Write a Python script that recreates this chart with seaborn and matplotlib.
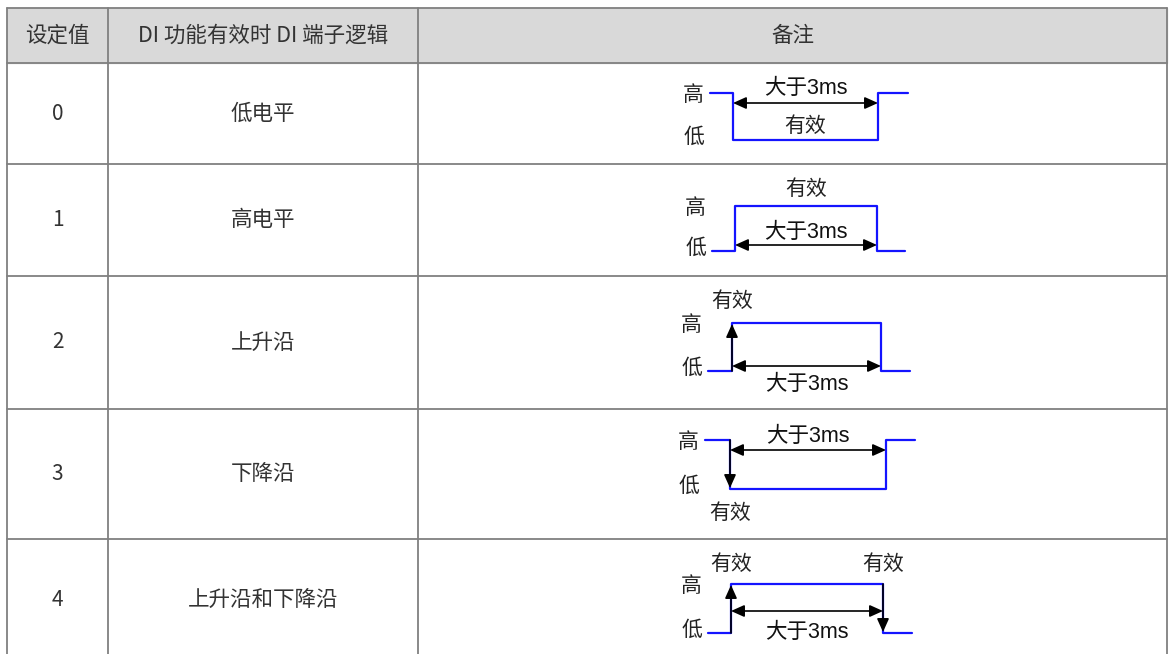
import matplotlib
matplotlib.use("Agg")
import matplotlib.pyplot as plt
import numpy as np
import pandas as pd
import seaborn as sns
from matplotlib.patches import Rectangle

# ── Table content ─────────────────────────────────────────────────────────────
headers = ["设定值", "DI 功能有效时 DI 端子逻辑", "备注"]
set_values = ["0", "1", "2", "3", "4"]
logic_names = ["低电平", "高电平", "上升沿", "下降沿", "上升沿和下降沿"]

# waveform levels at [start, edge1, edge1, edge2, edge2, end]  (1 = 高, 0 = 低)
wave_levels = [
    [1, 1, 0, 0, 1, 1],
    [0, 0, 1, 1, 0, 0],
    [0, 0, 1, 1, 0, 0],
    [1, 1, 0, 0, 1, 1],
    [0, 0, 1, 1, 0, 0],
]
# which edges carry a "valid" arrow: (edge index, direction)
edge_arrows = [[], [], [(1, "up")], [(1, "down")], [(1, "up"), (2, "down")]]
pulse_text = "大于3ms"
valid_text = "有效"
high_text, low_text = "高", "低"

# ── Layout (pixels) ───────────────────────────────────────────────────────────
W, H = 1171, 654
col_edges = [7, 108, 418, 1167]
row_edges = [8, 63, 164, 276, 409, 539, 661]
# per row: x start, edge1, edge2, end, y high, y low
wave_geom = [
    (710, 733, 878, 908, 93, 140),
    (712, 735, 877, 905, 206, 251),
    (708, 732, 881, 910, 323, 371),
    (705, 730, 886, 915, 440, 489),
    (708, 731, 883, 912, 584, 633),
]
arrow_y = [103, 245, 366, 450, 611]
pulse_dy = [-14, -13, 19, -14, 21]      # text offset from double arrow
valid_pos = [  # (anchor, y)
    [("mid", 126)], [("mid", 189)], [("e1", 301)], [("e1", 513)],
    [("e1", 564), ("e2", 564)],
]

sns.set_theme(style="white")
plt.rcParams["font.family"] = ["Noto Sans CJK SC", "DejaVu Sans"]
MIX = ["Liberation Sans", "Noto Sans CJK SC"]

fig = plt.figure(figsize=(W / 100, H / 100), dpi=100)
ax = fig.add_axes([0, 0, 1, 1])

# ── Waveforms ─────────────────────────────────────────────────────────────────
rows = []
for r, (lv, g) in enumerate(zip(wave_levels, wave_geom)):
    x0, x1, x2, x3, yh, yl = g
    xs = [x0, x1, x1, x2, x2, x3]
    for i, (x, l) in enumerate(zip(xs, lv)):
        rows.append({"row": r, "order": i, "x": x, "y": yh if l else yl})
wave_df = pd.DataFrame(rows)
sns.lineplot(data=wave_df, x="x", y="y", units="row", estimator=None, sort=False,
             color="#1414ff", lw=1.6, ax=ax, legend=False)

# ── Table ─────────────────────────────────────────────────────────────────────
ax.add_patch(Rectangle((col_edges[0], row_edges[0]), col_edges[-1] - col_edges[0],
                       row_edges[1] - row_edges[0], color="#d9d9d9", zorder=0))
grid_c = "#808080"
for y in row_edges[:-1]:
    ax.plot([col_edges[0], col_edges[-1]], [y, y], color=grid_c, lw=1.3)
for x in col_edges:
    ax.plot([x, x], [row_edges[0], row_edges[-1]], color=grid_c, lw=1.3)

txt_c = "#333333"
for c, h in enumerate(headers):
    ax.text((col_edges[c] + col_edges[c + 1]) / 2, (row_edges[0] + row_edges[1]) / 2,
            h, ha="center", va="center", fontsize=15.5, color=txt_c)
for r in range(len(set_values)):
    yc = (row_edges[r + 1] + row_edges[r + 2]) / 2
    ax.text((col_edges[0] + col_edges[1]) / 2, yc, set_values[r],
            ha="center", va="center", fontsize=15, color=txt_c)
    ax.text((col_edges[1] + col_edges[2]) / 2, yc, logic_names[r],
            ha="center", va="center", fontsize=15.5, color=txt_c)

# ── Annotations on waveforms ─────────────────────────────────────────────────
ak = dict(color="black", lw=1.2, shrinkA=0, shrinkB=0, mutation_scale=10)
head = "head_length=0.8,head_width=0.36"
for r, g in enumerate(wave_geom):
    x0, x1, x2, x3, yh, yl = g
    ax.text(x0 - 6, yh + 2, high_text, ha="right", va="center", fontsize=15, color="#222222")
    ax.text(x0 - 6, yl - 3, low_text, ha="right", va="center", fontsize=15, color="#222222")
    ay = arrow_y[r]
    ax.annotate("", xy=(x2, ay), xytext=(x1, ay),
                arrowprops=dict(arrowstyle="<|-|>," + head, **ak))
    ax.text((x1 + x2) / 2, ay + pulse_dy[r], pulse_text, ha="center", va="center",
            fontsize=15.5, family=MIX, color="#111111")
    for ei, d in edge_arrows[r]:
        xe = x1 if ei == 1 else x2
        y_from, y_to = (yl, yh + 1) if d == "up" else (yh, yl - 1)
        ax.annotate("", xy=(xe, y_to), xytext=(xe, y_from),
                    arrowprops=dict(arrowstyle="-|>," + head, **ak))
    for rel, yy in valid_pos[r]:
        xx = {"mid": (x1 + x2) / 2, "e1": x1, "e2": x2}[rel]
        ax.text(xx, yy, valid_text, ha="center", va="center", fontsize=15, color="#222222")

ax.set_xlim(0, W)
ax.set_ylim(H, 0)
ax.axis("off")
fig.savefig("out.png", dpi=100)
